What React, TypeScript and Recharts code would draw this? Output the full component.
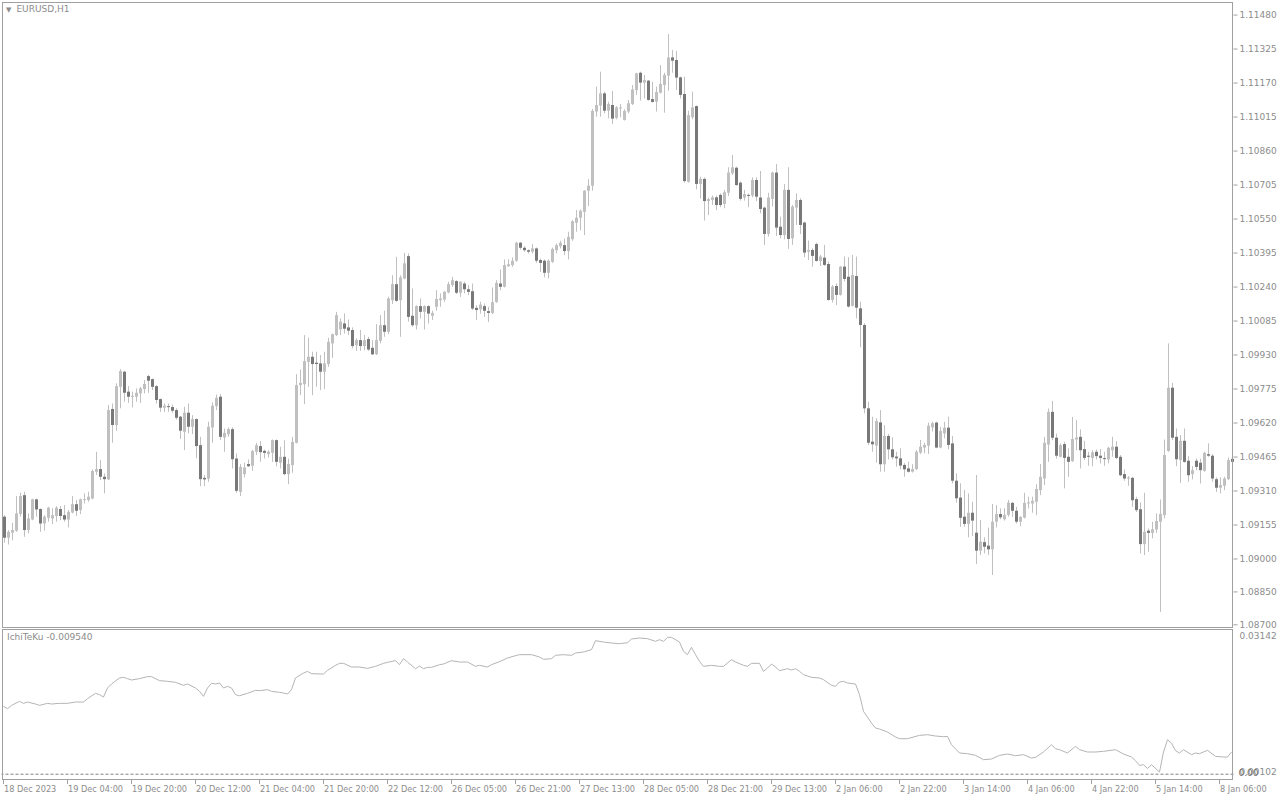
import React from 'react';
import { ComposedChart, Bar, XAxis, YAxis, LineChart, Line, ReferenceLine } from 'recharts';

// EURUSD H1, one entry per bar (18 Dec 2023 12:00 .. 8 Jan 2024)
const opens = [
  1.09193, 1.09097, 1.0912, 1.09129, 1.09205, 1.09291, 1.09132, 1.0918, 1.09272, 1.09228,
  1.09162, 1.09188, 1.09185, 1.09196, 1.09228, 1.092, 1.0918, 1.09212, 1.0925, 1.09223,
  1.0927, 1.09269, 1.09276, 1.09398, 1.0941, 1.09375, 1.09363, 1.09684, 1.09611, 1.09785,
  1.09854, 1.09763, 1.0974, 1.0974, 1.09755, 1.09775, 1.09834, 1.0982, 1.09788, 1.09729,
  1.0969, 1.09697, 1.09693, 1.09679, 1.09649, 1.0958, 1.09667, 1.09603, 1.09638, 1.09519,
  1.0937, 1.09366, 1.096, 1.09697, 1.0974, 1.09554, 1.09569, 1.09592, 1.09458, 1.09306,
  1.09387, 1.09433, 1.09425, 1.09489, 1.09515, 1.09493, 1.09478, 1.09484, 1.09542, 1.09439,
  1.09466, 1.09387, 1.09428, 1.0953, 1.09793, 1.09797, 1.09899, 1.09922, 1.09895, 1.09892,
  1.09854, 1.09889, 1.09983, 1.10021, 1.10047, 1.10074, 1.10056, 1.10044, 1.09975, 1.09998,
  1.09971, 1.10003, 1.09963, 1.09934, 1.09995, 1.10066, 1.10036, 1.1018, 1.10253, 1.1018,
  1.10279, 1.10381, 1.10109, 1.10066, 1.10153, 1.10127, 1.10153, 1.10109, 1.1015, 1.1018,
  1.10183, 1.10215, 1.10249, 1.10267, 1.10214, 1.10256, 1.1023, 1.10221, 1.10145, 1.10138,
  1.10153, 1.1013, 1.10122, 1.10171, 1.10256, 1.10241, 1.10335, 1.1034, 1.1036, 1.10442,
  1.10419, 1.10408, 1.10401, 1.10416, 1.10363, 1.1036, 1.10305, 1.10355, 1.10408, 1.10426,
  1.10431, 1.10404, 1.10458, 1.10533, 1.10556, 1.10583, 1.10679, 1.10702, 1.1104, 1.11067,
  1.11123, 1.11044, 1.1107, 1.11011, 1.11056, 1.11002, 1.1104, 1.11075, 1.11138, 1.11217,
  1.11172, 1.11181, 1.11097, 1.11085, 1.11126, 1.11161, 1.11204, 1.11287, 1.11275, 1.11196,
  1.1112, 1.1072, 1.11014, 1.11065, 1.1071, 1.10733, 1.10632, 1.10637, 1.10649, 1.1066,
  1.10619, 1.1067, 1.10759, 1.10784, 1.10716, 1.10648, 1.1066, 1.10657, 1.10728, 1.10648,
  1.10602, 1.10482, 1.10642, 1.10762, 1.10515, 1.10477, 1.10683, 1.10462, 1.10602, 1.10637,
  1.10534, 1.10401, 1.10409, 1.10436, 1.10359, 1.10374, 1.10345, 1.10181, 1.10245, 1.10204,
  1.10333, 1.10287, 1.10154, 1.1029, 1.10143, 1.10067, 1.09687, 1.09535, 1.09517, 1.09623,
  1.09432, 1.09561, 1.095, 1.09467, 1.09459, 1.09429, 1.09413, 1.09398, 1.0941, 1.09485,
  1.09508, 1.09517, 1.096, 1.09622, 1.09508, 1.09573, 1.09599, 1.09527, 1.09357, 1.0928,
  1.09193, 1.0916, 1.09211, 1.0912, 1.09038, 1.09077, 1.09061, 1.09044, 1.0917, 1.09205,
  1.09181, 1.09201, 1.09256, 1.0922, 1.0917, 1.09189, 1.09253, 1.09253, 1.09261, 1.09314,
  1.09367, 1.09522, 1.09671, 1.09553, 1.09466, 1.09524, 1.09466, 1.09446, 1.09545, 1.09557,
  1.09501, 1.09471, 1.09461, 1.09489, 1.09471, 1.0946, 1.09454, 1.09496, 1.09512, 1.09466,
  1.09387, 1.09367, 1.0937, 1.09273, 1.09227, 1.09068, 1.09129, 1.09119, 1.09135, 1.0917,
  1.092, 1.09492, 1.09781, 1.09557, 1.09451, 1.09539, 1.09448, 1.09387, 1.09448, 1.09439,
  1.09402, 1.09478, 1.09471, 1.09364, 1.09325, 1.09334, 1.09364, 1.09457,
];

const highs = [
  1.092, 1.09132, 1.09165, 1.09287, 1.09302, 1.09307, 1.09208, 1.09275, 1.09275, 1.09231,
  1.092, 1.09238, 1.09231, 1.09241, 1.09241, 1.09246, 1.09223, 1.09287, 1.09269, 1.09276,
  1.09299, 1.09307, 1.09408, 1.09489, 1.09451, 1.0939, 1.09702, 1.09709, 1.09801, 1.09866,
  1.09857, 1.09788, 1.09763, 1.09778, 1.09785, 1.09816, 1.09839, 1.09823, 1.09793, 1.09732,
  1.09709, 1.09709, 1.09705, 1.09687, 1.09652, 1.09694, 1.09709, 1.09656, 1.09641, 1.09557,
  1.09383, 1.09626, 1.09714, 1.0975, 1.09752, 1.09595, 1.096, 1.096, 1.09481, 1.09433,
  1.09439, 1.09454, 1.09496, 1.0953, 1.09538, 1.09499, 1.09496, 1.09545, 1.09545, 1.09512,
  1.09542, 1.09458, 1.09557, 1.09843, 1.09864, 1.10021, 1.10009, 1.09945, 1.09945, 1.0993,
  1.09945, 1.10009, 1.10028, 1.10127, 1.10097, 1.1012, 1.10092, 1.10056, 1.10006, 1.10044,
  1.10021, 1.10013, 1.09998, 1.10071, 1.10112, 1.10132, 1.10196, 1.10294, 1.10378, 1.10294,
  1.10396, 1.10393, 1.10233, 1.10157, 1.10188, 1.10157, 1.10157, 1.10132, 1.10226, 1.10211,
  1.10223, 1.10264, 1.10287, 1.10271, 1.10267, 1.10264, 1.10249, 1.10256, 1.10157, 1.10173,
  1.10165, 1.1015, 1.10238, 1.10271, 1.1032, 1.10366, 1.10366, 1.10375, 1.10446, 1.10446,
  1.10426, 1.10411, 1.10436, 1.1042, 1.1037, 1.10366, 1.10366, 1.1042, 1.10439, 1.10451,
  1.10461, 1.10492, 1.10545, 1.10591, 1.10594, 1.10682, 1.10732, 1.11052, 1.11154, 1.11222,
  1.11131, 1.11085, 1.11134, 1.11065, 1.11075, 1.1105, 1.11093, 1.11161, 1.11217, 1.11222,
  1.11207, 1.11184, 1.11176, 1.11154, 1.11252, 1.11217, 1.11394, 1.11321, 1.11316, 1.11199,
  1.11199, 1.11044, 1.11131, 1.11068, 1.10743, 1.10739, 1.10647, 1.10657, 1.10657, 1.10667,
  1.10683, 1.10786, 1.10842, 1.10789, 1.10721, 1.10683, 1.10667, 1.1074, 1.1074, 1.10769,
  1.10607, 1.1067, 1.10766, 1.10801, 1.10561, 1.1071, 1.10786, 1.10614, 1.10667, 1.10645,
  1.10538, 1.10452, 1.10417, 1.10442, 1.10386, 1.10432, 1.10356, 1.10249, 1.10257, 1.10336,
  1.10379, 1.10376, 1.10386, 1.10379, 1.10173, 1.10075, 1.09717, 1.09649, 1.09641, 1.09679,
  1.09611, 1.0957, 1.09555, 1.09489, 1.09505, 1.09437, 1.09444, 1.09432, 1.09497, 1.09543,
  1.0953, 1.09622, 1.09626, 1.09626, 1.09603, 1.09626, 1.09649, 1.09561, 1.09391, 1.09345,
  1.09315, 1.09299, 1.09261, 1.09383, 1.09178, 1.09099, 1.09143, 1.09251, 1.09246, 1.09231,
  1.09231, 1.09269, 1.09261, 1.09238, 1.09195, 1.09302, 1.09284, 1.09284, 1.09341, 1.09433,
  1.09557, 1.09686, 1.09721, 1.09572, 1.09527, 1.09534, 1.09504, 1.09648, 1.09633, 1.09591,
  1.09539, 1.09489, 1.09496, 1.09499, 1.09501, 1.09489, 1.09512, 1.09557, 1.09537, 1.09474,
  1.09408, 1.09378, 1.09375, 1.09284, 1.09258, 1.09302, 1.09139, 1.0917, 1.09208, 1.09271,
  1.09545, 1.09983, 1.09803, 1.09595, 1.09565, 1.09595, 1.09469, 1.09423, 1.09458, 1.09458,
  1.09489, 1.09527, 1.09478, 1.09372, 1.09372, 1.09375, 1.09463, 1.09515,
];

const lows = [
  1.09074, 1.09066, 1.09086, 1.09124, 1.09193, 1.09101, 1.09117, 1.09177, 1.09193, 1.09124,
  1.09129, 1.0917, 1.09159, 1.0917, 1.09177, 1.0917, 1.09144, 1.09208, 1.09196, 1.09205,
  1.09253, 1.09261, 1.09272, 1.09383, 1.0936, 1.09299, 1.0936, 1.0953, 1.09585, 1.09687,
  1.09717, 1.09712, 1.09691, 1.09717, 1.09712, 1.09755, 1.09758, 1.0977, 1.09709, 1.09671,
  1.09671, 1.09671, 1.09667, 1.09636, 1.09547, 1.09497, 1.09573, 1.0957, 1.09459, 1.09332,
  1.09332, 1.09352, 1.0953, 1.09679, 1.09542, 1.09489, 1.09557, 1.09413, 1.09302, 1.09287,
  1.09372, 1.0942, 1.09402, 1.09474, 1.09443, 1.09458, 1.09463, 1.09443, 1.09423, 1.09413,
  1.09382, 1.09341, 1.09393, 1.09527, 1.09747, 1.09706, 1.09785, 1.09747, 1.09785, 1.0977,
  1.09775, 1.09876, 1.09917, 1.10016, 1.10021, 1.10028, 1.10021, 1.0996, 1.09949, 1.09949,
  1.09952, 1.09949, 1.0993, 1.0993, 1.09983, 1.10013, 1.10025, 1.10162, 1.10173, 1.10013,
  1.10275, 1.10082, 1.10059, 1.10046, 1.10097, 1.10046, 1.10074, 1.10089, 1.10132, 1.1015,
  1.10173, 1.10211, 1.10241, 1.10208, 1.10195, 1.10211, 1.10203, 1.10135, 1.10089, 1.10119,
  1.10104, 1.10081, 1.10116, 1.10168, 1.10226, 1.10238, 1.10332, 1.10332, 1.10355, 1.10411,
  1.10401, 1.10393, 1.10393, 1.1035, 1.10309, 1.10284, 1.10279, 1.1035, 1.10393, 1.10416,
  1.10385, 1.10366, 1.10451, 1.10492, 1.10499, 1.10477, 1.10609, 1.10679, 1.11017, 1.11017,
  1.11032, 1.11009, 1.10983, 1.11005, 1.11014, 1.10999, 1.11032, 1.1107, 1.11116, 1.1109,
  1.111, 1.1109, 1.11081, 1.1104, 1.11123, 1.11035, 1.11135, 1.11217, 1.11138, 1.111,
  1.10716, 1.10716, 1.11005, 1.10685, 1.10644, 1.10543, 1.10568, 1.10614, 1.10591, 1.10604,
  1.10599, 1.10655, 1.10751, 1.10701, 1.10634, 1.10634, 1.10604, 1.10649, 1.10632, 1.10576,
  1.10432, 1.1047, 1.10607, 1.10473, 1.10462, 1.10458, 1.10414, 1.10432, 1.10523, 1.10482,
  1.10376, 1.10363, 1.10333, 1.10356, 1.10336, 1.10336, 1.10178, 1.10169, 1.10158, 1.10201,
  1.10265, 1.10146, 1.10151, 1.10097, 1.09965, 1.09664, 1.0952, 1.09489, 1.09439, 1.09398,
  1.09398, 1.09454, 1.09454, 1.09421, 1.09409, 1.09375, 1.09394, 1.09394, 1.09406, 1.09479,
  1.09482, 1.09479, 1.09581, 1.09505, 1.09505, 1.0955, 1.095, 1.09345, 1.09257, 1.09147,
  1.09147, 1.09099, 1.09105, 1.08977, 1.09018, 1.09026, 1.09018, 1.08927, 1.09144, 1.09181,
  1.09175, 1.09193, 1.09192, 1.09162, 1.0915, 1.09185, 1.0923, 1.09211, 1.092, 1.09291,
  1.09337, 1.09443, 1.09542, 1.09458, 1.09463, 1.09322, 1.09375, 1.09443, 1.09496, 1.09413,
  1.09451, 1.09425, 1.09423, 1.09454, 1.09436, 1.09425, 1.09436, 1.09466, 1.09455, 1.09378,
  1.09357, 1.09334, 1.09238, 1.09215, 1.09025, 1.09018, 1.09033, 1.09094, 1.09119, 1.08759,
  1.09185, 1.09489, 1.09542, 1.09423, 1.09347, 1.09439, 1.09352, 1.09363, 1.09405, 1.09344,
  1.09398, 1.09466, 1.09352, 1.09306, 1.09299, 1.09314, 1.0936, 1.09436,
];

const closes = [
  1.09097, 1.09124, 1.09132, 1.09208, 1.09287, 1.09132, 1.09185, 1.09272, 1.09226, 1.09162,
  1.09193, 1.09234, 1.092, 1.09234, 1.09196, 1.0918, 1.09215, 1.0925, 1.0922, 1.09272,
  1.09273, 1.09284, 1.09401, 1.0941, 1.09375, 1.09364, 1.09679, 1.09611, 1.09788, 1.09857,
  1.09758, 1.0974, 1.09744, 1.09758, 1.09778, 1.09798, 1.09813, 1.09785, 1.09725, 1.0969,
  1.09699, 1.09694, 1.09676, 1.09644, 1.09585, 1.09667, 1.09603, 1.09638, 1.09515, 1.09364,
  1.09363, 1.09603, 1.09699, 1.09735, 1.09557, 1.09575, 1.09592, 1.09455, 1.09311, 1.0942,
  1.09417, 1.09423, 1.09493, 1.09519, 1.09487, 1.09484, 1.09489, 1.09542, 1.09443, 1.09466,
  1.09387, 1.09433, 1.09534, 1.09793, 1.09803, 1.09902, 1.09922, 1.09889, 1.09889, 1.09854,
  1.09892, 1.0999, 1.10025, 1.10112, 1.10082, 1.1005, 1.10041, 1.09971, 1.09998, 1.09971,
  1.09998, 1.09955, 1.09933, 1.09998, 1.10066, 1.10036, 1.10188, 1.10253, 1.10177, 1.10284,
  1.10348, 1.10104, 1.10066, 1.10153, 1.10127, 1.10153, 1.10119, 1.10122, 1.10185, 1.10188,
  1.10218, 1.10253, 1.10271, 1.10214, 1.10264, 1.1023, 1.10218, 1.10142, 1.10135, 1.1016,
  1.10132, 1.10122, 1.10171, 1.10259, 1.10241, 1.1034, 1.10344, 1.1036, 1.10442, 1.10419,
  1.10408, 1.10401, 1.10416, 1.1036, 1.1035, 1.10305, 1.1036, 1.10413, 1.10431, 1.10442,
  1.10404, 1.10469, 1.1054, 1.10556, 1.10588, 1.10679, 1.10702, 1.11043, 1.1107, 1.11123,
  1.11044, 1.11075, 1.11008, 1.11059, 1.11059, 1.11043, 1.11078, 1.11141, 1.11214, 1.11172,
  1.11184, 1.11093, 1.11084, 1.11129, 1.11166, 1.11207, 1.11287, 1.11272, 1.11195, 1.11116,
  1.10723, 1.11024, 1.11059, 1.1071, 1.10733, 1.10632, 1.10641, 1.10649, 1.10614, 1.10614,
  1.10672, 1.10762, 1.10786, 1.10705, 1.10642, 1.10664, 1.10657, 1.10728, 1.10652, 1.10596,
  1.10482, 1.10648, 1.10762, 1.10511, 1.10477, 1.10683, 1.10459, 1.10607, 1.10637, 1.10523,
  1.10397, 1.10409, 1.10382, 1.10359, 1.10379, 1.10341, 1.10181, 1.10242, 1.10204, 1.10333,
  1.10277, 1.10151, 1.10295, 1.10146, 1.10067, 1.09687, 1.0953, 1.09523, 1.09629, 1.09432,
  1.09561, 1.095, 1.09464, 1.09459, 1.09426, 1.09409, 1.09398, 1.0941, 1.09489, 1.09512,
  1.0952, 1.09608, 1.09619, 1.09508, 1.09584, 1.09599, 1.0952, 1.09357, 1.09277, 1.09188,
  1.0916, 1.09211, 1.09175, 1.09038, 1.09079, 1.09056, 1.09044, 1.0917, 1.09205, 1.0919,
  1.09201, 1.09257, 1.0922, 1.0917, 1.09192, 1.09256, 1.09258, 1.09265, 1.09319, 1.09375,
  1.0953, 1.09671, 1.09553, 1.09471, 1.09519, 1.09461, 1.09443, 1.09547, 1.09554, 1.09496,
  1.09461, 1.09466, 1.09486, 1.09469, 1.09461, 1.09457, 1.09507, 1.09512, 1.09461, 1.09382,
  1.09367, 1.09372, 1.09268, 1.09223, 1.09068, 1.09124, 1.09119, 1.09136, 1.09173, 1.09205,
  1.09474, 1.09781, 1.09553, 1.09455, 1.09539, 1.09443, 1.09382, 1.09405, 1.0942, 1.09405,
  1.09484, 1.09471, 1.09367, 1.09325, 1.09337, 1.09367, 1.09451, 1.09443,
];

// IchiTeKu sub-window line, sampled at these bars
const indicatorBars = [
  0, 1, 2, 4, 5, 6, 8, 9, 11, 12, 14, 16, 18, 20, 21, 23, 24, 25, 26, 27,
  29, 30, 31, 32, 34, 36, 37, 39, 41, 43, 45, 46, 48, 49, 50, 51, 52, 53, 54, 55,
  56, 57, 58, 59, 61, 63, 64, 66, 67, 69, 70, 71, 72, 73, 75, 76, 77, 80, 81, 83,
  84, 85, 87, 89, 91, 93, 95, 96, 98, 99, 100, 101, 103, 104, 105, 106, 107, 109, 110, 112,
  114, 116, 118, 119, 121, 122, 124, 126, 128, 129, 132, 134, 135, 137, 138, 140, 142, 143, 145, 147,
  148, 150, 152, 154, 156, 157, 159, 161, 163, 164, 165, 166, 167, 169, 170, 171, 172, 173, 174, 175,
  177, 179, 180, 182, 183, 185, 186, 187, 189, 190, 191, 192, 193, 194, 196, 197, 198, 199, 200, 202,
  204, 205, 207, 208, 209, 210, 211, 213, 214, 215, 217, 218, 219, 221, 223, 224, 226, 229, 231, 233,
  235, 236, 237, 239, 241, 243, 245, 247, 249, 251, 253, 255, 257, 258, 260, 262, 263, 264, 266, 268,
  269, 271, 273, 275, 278, 280, 282, 283, 284, 285, 286, 287, 289, 290, 291, 292, 293, 294, 295, 297,
  298, 299, 301, 303, 305, 306, 307,
];

const indicatorValues = [
  0.01562, 0.01513, 0.01583, 0.01667, 0.01625, 0.01653, 0.01611, 0.01583, 0.01625, 0.01611,
  0.01625, 0.01625, 0.01653, 0.01653, 0.01723, 0.01835, 0.01807, 0.01758, 0.01947, 0.02031,
  0.02157, 0.02171, 0.02143, 0.02115, 0.02143, 0.02185, 0.02185, 0.02101, 0.02087, 0.02066,
  0.02003, 0.02031, 0.01947, 0.01877, 0.01772, 0.01947, 0.02045, 0.02031, 0.02052, 0.01947,
  0.01982, 0.01947, 0.01807, 0.01786, 0.01835, 0.01898, 0.01891, 0.01912, 0.01877, 0.01856,
  0.01842, 0.01821, 0.01912, 0.02157, 0.02261, 0.02296, 0.02247, 0.0224, 0.02317, 0.02422,
  0.02464, 0.02464, 0.02387, 0.02387, 0.02359, 0.02401, 0.02464, 0.02485, 0.0252, 0.02436,
  0.02562, 0.02492, 0.02352, 0.02408, 0.02352, 0.0238, 0.0238, 0.02436, 0.0245, 0.0252,
  0.02492, 0.02492, 0.02401, 0.02422, 0.02387, 0.02436, 0.02499, 0.02576, 0.02625, 0.02646,
  0.02646, 0.02597, 0.02548, 0.02562, 0.02632, 0.02646, 0.02632, 0.02681, 0.02702, 0.02751,
  0.02939, 0.02911, 0.0289, 0.02876, 0.02897, 0.02974, 0.02995, 0.02981, 0.02925, 0.0296,
  0.02925, 0.03009, 0.03009, 0.02911, 0.02716, 0.02646, 0.028, 0.02646, 0.02506, 0.02401,
  0.02422, 0.02401, 0.02401, 0.02541, 0.02492, 0.02422, 0.02401, 0.02464, 0.02464, 0.02296,
  0.02366, 0.0245, 0.02387, 0.0231, 0.02352, 0.02324, 0.02352, 0.02296, 0.02226, 0.02171,
  0.02157, 0.02122, 0.02003, 0.01982, 0.02073, 0.02087, 0.02052, 0.02031, 0.01807, 0.01457,
  0.01213, 0.01108, 0.01087, 0.01024, 0.00919, 0.00884, 0.00884, 0.00954, 0.00968, 0.0094,
  0.00926, 0.00933, 0.00758, 0.00584, 0.0057, 0.00535, 0.00444, 0.00458, 0.00535, 0.00563,
  0.00528, 0.00549, 0.00479, 0.00493, 0.00605, 0.00758, 0.00675, 0.00654, 0.00584, 0.00724,
  0.00654, 0.00605, 0.00605, 0.00619, 0.00654, 0.00563, 0.005, 0.00423, 0.00325, 0.00339,
  0.0026, 0.00339, 0.00185, 0.00605, 0.00863, 0.00793, 0.00633, 0.00584, 0.00654, 0.00549,
  0.00584, 0.0057, 0.0064, 0.00514, 0.005, 0.005, 0.00605,
];

const priceTicks = [
  1.1148, 1.11325, 1.1117, 1.11015, 1.1086, 1.10705, 1.1055, 1.10395, 1.1024, 1.10085,
  1.0993, 1.09775, 1.0962, 1.09465, 1.0931, 1.09155, 1.09, 1.0885, 1.087,
];

const indicatorTicks = [0.00102, 0.03142];

// one label every 16 bars
const timeLabels = [
  '18 Dec 2023', '19 Dec 04:00', '19 Dec 20:00', '20 Dec 12:00', '21 Dec 04:00',
  '21 Dec 20:00', '22 Dec 12:00', '26 Dec 05:00', '26 Dec 21:00', '27 Dec 13:00',
  '28 Dec 05:00', '28 Dec 21:00', '29 Dec 13:00', '2 Jan 06:00', '2 Jan 22:00',
  '3 Jan 14:00', '4 Jan 06:00', '4 Jan 22:00', '5 Jan 14:00', '8 Jan 06:00',
];
const LABEL_STEP = 16;

const UP = '#c0c0c0';
const DOWN = '#787878';
const WICK = '#c0c0c0';
const TEXT = '#8c8c8c';
const FRAME = '#a0a0a0';
const FONT = '"DejaVu Sans", sans-serif';
const ZERO_LEVEL = 0.0014;

const candles = opens.map((o, i) => ({
  i,
  o,
  h: highs[i],
  l: lows[i],
  c: closes[i],
  range: [lows[i], highs[i]],
}));

const indicator = indicatorBars.map((bar, k) => ({ bar, v: indicatorValues[k] }));
const tickBars = timeLabels.map((_, k) => k * LABEL_STEP);

function Candle(props: any) {
  const { x, y, width, height, payload } = props;
  if (!payload) return null;
  const top = Math.min(y, y + height);
  const bottom = Math.max(y, y + height);
  const { o, h, l, c } = payload;
  const span = h - l || 1e-9;
  const py = (p: number) => top + ((h - p) / span) * (bottom - top);
  const cx = Math.round(x + width / 2 - 0.5) + 0.5;
  const bodyTop = py(Math.max(o, c));
  const bodyBottom = py(Math.min(o, c));
  return (
    <g>
      <line x1={cx} x2={cx} y1={top} y2={bottom} stroke={WICK} strokeWidth={1} />
      <rect
        x={cx - 1.5}
        y={bodyTop}
        width={3}
        height={Math.max(1, bodyBottom - bodyTop)}
        fill={c >= o ? UP : DOWN}
      />
    </g>
  );
}

function TimeTick(props: any) {
  const { x, payload } = props;
  const k = tickBars.indexOf(payload.value);
  if (k < 0) return null;
  return (
    <g>
      <line x1={x} x2={x} y1={151} y2={156} stroke={FRAME} />
      <text x={x + 0.5} y={164} fill={TEXT} fontSize={8.2} fontFamily={FONT} textAnchor="start">
        {timeLabels[k]}
      </text>
    </g>
  );
}

function IndicatorTick(props: any) {
  const { x, y, payload } = props;
  const isTop = payload.value > 0.02;
  const ty = isTop ? y + 5 : y - 4;
  return (
    <g>
      <text x={x} y={ty} dy="0.355em" fill={TEXT} fontSize={9} fontFamily={FONT} textAnchor="start">
        {payload.value.toFixed(5)}
      </text>
      {!isTop && (
        <text x={x - 1} y={ty + 1} dy="0.355em" fill="#6e6e6e" fontSize={9} fontFamily={FONT} textAnchor="start">
          0.00
        </text>
      )}
    </g>
  );
}

export default function App() {
  return (
    <div style={{ position: 'fixed', left: 0, top: 0, width: 1280, height: 800, background: '#fff', overflow: 'hidden' }}>
      <div style={{ position: 'absolute', left: 0, top: 0 }}>
        <ComposedChart
          width={1280}
          height={640}
          data={candles}
          margin={{ top: 3, right: 0, bottom: 13, left: 1.5 }}
          barCategoryGap={0}
        >
          <XAxis dataKey="i" hide />
          <YAxis
            orientation="right"
            width={46.5}
            domain={[1.0869, 1.11535]}
            allowDataOverflow
            ticks={priceTicks}
            interval={0}
            tickFormatter={(v: number) => v.toFixed(5)}
            axisLine={false}
            tickLine={{ stroke: FRAME }}
            tickSize={4}
            tickMargin={2}
            tick={{ fill: TEXT, fontSize: 9, fontFamily: FONT }}
          />
          <Bar dataKey="range" barSize={3} shape={<Candle />} isAnimationActive={false} />
        </ComposedChart>
      </div>

      <div style={{ position: 'absolute', left: 0, top: 628 }}>
        <LineChart
          width={1280}
          height={172}
          data={indicator}
          margin={{ top: 3, right: 0, bottom: 4, left: 1.5 }}
        >
          <XAxis
            dataKey="bar"
            type="number"
            domain={[-0.5, 307.5]}
            ticks={tickBars}
            interval={0}
            axisLine={false}
            tickLine={false}
            height={20}
            tick={<TimeTick />}
          />
          <YAxis
            orientation="right"
            width={46.5}
            domain={[indicatorTicks[0], indicatorTicks[1]]}
            allowDataOverflow
            ticks={indicatorTicks}
            interval={0}
            axisLine={false}
            tickLine={false}
            tickSize={4}
            tickMargin={2}
            tick={<IndicatorTick />}
          />
          <ReferenceLine y={ZERO_LEVEL} stroke="#808080" strokeDasharray="3 2" />
          <Line
            dataKey="v"
            type="linear"
            stroke="#b4b4b4"
            strokeWidth={1}
            dot={false}
            isAnimationActive={false}
          />
        </LineChart>
      </div>

      <div style={{ position: 'absolute', left: 2, top: 2, width: 1231, height: 626, border: `1px solid ${FRAME}`, boxSizing: 'border-box', pointerEvents: 'none' }} />
      <div style={{ position: 'absolute', left: 2, top: 629, width: 1231, height: 151, border: `1px solid ${FRAME}`, boxSizing: 'border-box', pointerEvents: 'none' }} />

      <div style={{ position: 'absolute', left: 6, top: 4, fontFamily: FONT, fontSize: 9, color: TEXT, whiteSpace: 'nowrap' }}>
        <span style={{ fontSize: 7, marginRight: 5 }}>▼</span>EURUSD,H1
      </div>
      <div style={{ position: 'absolute', left: 7, top: 632, fontFamily: FONT, fontSize: 9, color: TEXT, whiteSpace: 'nowrap' }}>
        IchiTeKu -0.009540
      </div>
    </div>
  );
}
